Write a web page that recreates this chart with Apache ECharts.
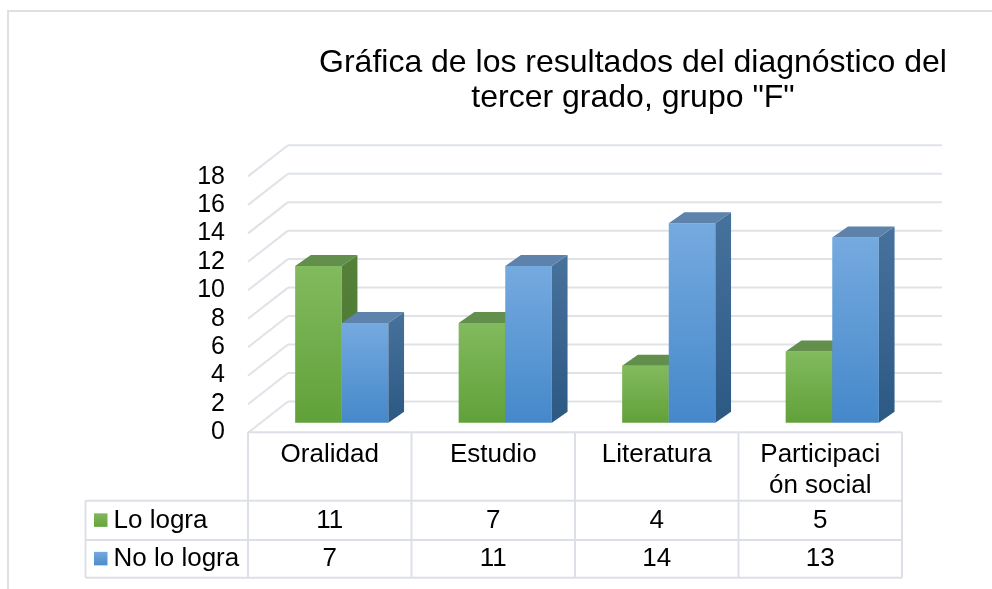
<!DOCTYPE html>
<html><head><meta charset="utf-8">
<script src="https://cdn.jsdelivr.net/npm/echarts@6/dist/echarts.min.js"></script>
<style>html,body{margin:0;padding:0;background:#fff}#c{width:992px;height:589px}</style>
</head><body><div id="c"></div>
<script>
// ---- data ----
const categories = ['Oralidad', 'Estudio', 'Literatura', 'Participaci\nón social'];
const seriesNames = ['Lo logra', 'No lo logra'];
const loLogra = [11, 7, 4, 5];
const noLoLogra = [7, 11, 14, 13];
const yTicks = [0, 2, 4, 6, 8, 10, 12, 14, 16, 18];
const titleText = 'Gráfica de los resultados del diagnóstico del\ntercer grado, grupo "F"';

// ---- style ----
const FONT = "'Liberation Sans', Arial, sans-serif";
const GRID_COLOR = '#DFE3E8';
const TABLE_COLOR = '#DCE0E6';
const TABLE_FS = 26;
const DEPTH_X = 15.7, DEPTH_Y = -11;
const palettes = [
  { front: ['#82BA5E', '#61A139'], side: ['#55813A', '#4A7530'], top: '#628F4B', key: ['#80B85C', '#64A43C'] },
  { front: ['#75AADF', '#4588CA'], side: ['#46729C', '#2C5884'], top: '#5D82AB', key: ['#74A9DE', '#4A8CCC'] }
];
function vgrad(c) {
  return { type: 'linear', x: 0, y: 0, x2: 0, y2: 1, colorStops: [{ offset: 0, color: c[0] }, { offset: 1, color: c[1] }] };
}

function barRenderer(k) {
  const pal = palettes[k];
  return function (params, api) {
    const idx = api.value(0), val = api.value(1);
    const base = api.coord([idx, 0]);
    const top = api.coord([idx, val]);
    const band = api.size([1, 0])[0];
    const bw = band * 0.285;
    const x0 = base[0] - bw + k * bw, x1 = x0 + bw;
    const y0 = top[1], y1 = base[1];
    return {
      type: 'group',
      children: [
        { type: 'rect', shape: { x: x0, y: y0, width: bw, height: y1 - y0 }, style: { fill: vgrad(pal.front) } },
        { type: 'polygon', shape: { points: [[x1, y0], [x1 + DEPTH_X, y0 + DEPTH_Y], [x1 + DEPTH_X, y1 + DEPTH_Y], [x1, y1]] }, style: { fill: vgrad(pal.side) } },
        { type: 'polygon', shape: { points: [[x0, y0], [x1, y0], [x1 + DEPTH_X, y0 + DEPTH_Y], [x0 + DEPTH_X, y0 + DEPTH_Y]] }, style: { fill: pal.top } }
      ]
    };
  };
}

function wallRenderer(params, api) {
  const cs = params.coordSys;
  const y = api.coord([0, api.value(1)])[1];
  const fx = cs.x - 12, fy = y + 10;
  const bx = cs.x + 28, by = y - 21.2;
  const ex = cs.x + cs.width + 28;
  const st = { stroke: GRID_COLOR, lineWidth: 2, fill: null };
  return {
    type: 'group',
    children: [
      { type: 'line', shape: { x1: fx, y1: fy, x2: bx, y2: by }, style: st },
      { type: 'line', shape: { x1: bx, y1: by, x2: ex, y2: by }, style: st }
    ]
  };
}

const H_HEAD = 68.4, H_R1 = 39.3, H_R2 = 37.7, LEG_W = 162.5;
function tableRenderer(params, api) {
  const i = api.value(0);
  const p = api.coord([i, 0]);
  const cx = p[0], y0 = p[1];
  const w = api.size([1, 0])[0];
  const xl = cx - w / 2, xr = cx + w / 2;
  const ya = y0 + H_HEAD, yb = ya + H_R1, yc = yb + H_R2;
  const st = { stroke: TABLE_COLOR, lineWidth: 2, fill: null };
  const txt = (t, x, y, align) => ({
    type: 'text',
    style: { text: t, x: x, y: y, align: align || 'center', verticalAlign: 'middle', fontFamily: FONT, fontSize: TABLE_FS, lineHeight: 31, fill: '#000' }
  });
  const ch = [
    { type: 'line', shape: { x1: xl, y1: y0, x2: xr, y2: y0 }, style: st },
    { type: 'line', shape: { x1: xr, y1: y0, x2: xr, y2: yc }, style: st },
    { type: 'line', shape: { x1: xl, y1: ya, x2: xr, y2: ya }, style: st },
    { type: 'line', shape: { x1: xl, y1: yb, x2: xr, y2: yb }, style: st },
    { type: 'line', shape: { x1: xl, y1: yc, x2: xr, y2: yc }, style: st },
    { type: 'text', style: { text: categories[i], x: cx, y: y0 + 7, align: 'center', verticalAlign: 'top', fontFamily: FONT, fontSize: TABLE_FS, lineHeight: 31, fill: '#000' } },
    txt(String(api.value(1)), cx, (ya + yb) / 2),
    txt(String(api.value(2)), cx, (yb + yc) / 2)
  ];
  if (i === 0) {
    const ll = xl - LEG_W;
    ch.push(
      { type: 'line', shape: { x1: xl, y1: y0, x2: xl, y2: yc }, style: st },
      { type: 'line', shape: { x1: ll, y1: ya, x2: xl, y2: ya }, style: st },
      { type: 'line', shape: { x1: ll, y1: yb, x2: xl, y2: yb }, style: st },
      { type: 'line', shape: { x1: ll, y1: yc, x2: xl, y2: yc }, style: st },
      { type: 'line', shape: { x1: ll, y1: ya, x2: ll, y2: yc }, style: st }
    );
    const rows = [[ya, yb], [yb, yc]];
    rows.forEach((r, k) => {
      const my = (r[0] + r[1]) / 2;
      ch.push({ type: 'rect', shape: { x: ll + 8.5, y: my - 7, width: 13.5, height: 13.5 }, style: { fill: vgrad(palettes[k].key) } });
      ch.push(txt(seriesNames[k], ll + 28, my, 'left'));
    });
  }
  return { type: 'group', children: ch };
}

const chart = echarts.init(document.getElementById('c'), null, { renderer: 'canvas' });
chart.setOption({
  animation: false,
  backgroundColor: '#fff',
  title: {
    text: titleText, left: 628, top: 41, textAlign: 'center',
    textStyle: { fontFamily: FONT, fontSize: 32, fontWeight: 'normal', color: '#000', lineHeight: 35 }
  },
  graphic: [
    { type: 'rect', shape: { x: 8, y: 11, width: 1000, height: 600 }, style: { fill: null, stroke: '#DDE1E6', lineWidth: 2 }, z: -1 }
  ],
  grid: [
    { left: 260, right: 78, top: 166.4, bottom: 166.3 },
    { left: 248, right: 90, top: 176.7, bottom: 156.7 }
  ],
  xAxis: [
    { type: 'category', data: categories, gridIndex: 0, show: false },
    { type: 'category', data: categories, gridIndex: 1, show: false }
  ],
  yAxis: [
    { type: 'value', min: 0, max: 18, interval: 2, gridIndex: 0, show: false },
    {
      type: 'value', min: 0, max: 18, interval: 2, gridIndex: 1,
      axisLine: { show: false }, axisTick: { show: false }, splitLine: { show: false },
      axisLabel: { margin: 23, fontFamily: FONT, fontSize: 25, color: '#000' }
    }
  ],
  series: [
    { type: 'custom', name: 'walls', xAxisIndex: 0, yAxisIndex: 0, renderItem: wallRenderer, data: yTicks.map(v => [0, v]), z: 1, silent: true },
    { type: 'custom', name: seriesNames[0], xAxisIndex: 0, yAxisIndex: 0, renderItem: barRenderer(0), data: loLogra.map((v, i) => [i, v]), z: 2 },
    { type: 'custom', name: seriesNames[1], xAxisIndex: 0, yAxisIndex: 0, renderItem: barRenderer(1), data: noLoLogra.map((v, i) => [i, v]), z: 3 },
    { type: 'custom', name: 'table', xAxisIndex: 1, yAxisIndex: 1, renderItem: tableRenderer, data: categories.map((c, i) => [i, loLogra[i], noLoLogra[i]]), encode: { x: 0, y: 1 }, z: 4, silent: true }
  ]
});
</script>
</body></html>
